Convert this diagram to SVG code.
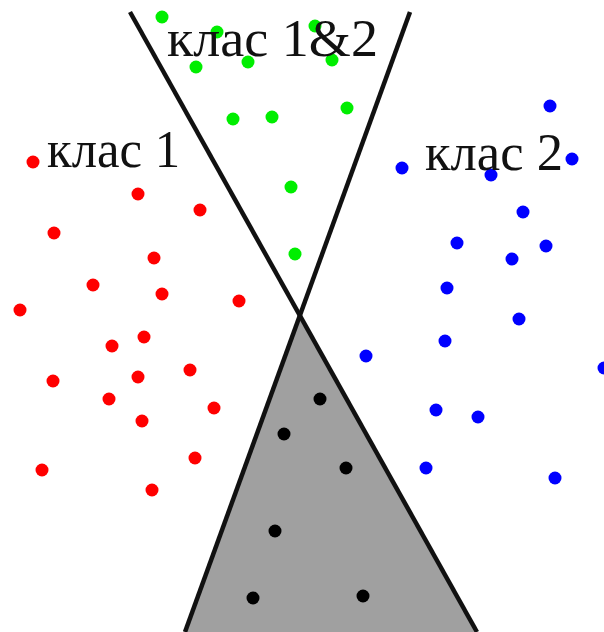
<svg xmlns="http://www.w3.org/2000/svg" width="604" height="632" viewBox="0 0 604 632">
<style>
.lbl{font-family:"Liberation Serif","Times New Roman",serif;font-size:52px;fill:#111}
.ln{stroke:#111;stroke-width:4.5;fill:none}
.g{fill:#00ee00}
.r{fill:#ff0000}
.b{fill:#0000ff}
.k{fill:#000}
</style>
<rect width="604" height="632" fill="#fff"/>
<g id="region">
<polygon points="299,316 185,632 477,632" fill="#a0a0a0"/>
</g>
<g id="connectors">
<line class="ln" x1="130" y1="12" x2="477" y2="632"/>
<line class="ln" x1="410" y1="12" x2="185" y2="632"/>
</g>
<g id="green">
<circle class="g" cx="162" cy="17" r="6.5"/><circle class="g" cx="217" cy="32" r="6.5"/>
<circle class="g" cx="196" cy="67" r="6.5"/><circle class="g" cx="248" cy="62" r="6.5"/>
<circle class="g" cx="315" cy="26" r="6.5"/><circle class="g" cx="332" cy="60" r="6.5"/>
<circle class="g" cx="233" cy="119" r="6.5"/><circle class="g" cx="272" cy="117" r="6.5"/>
<circle class="g" cx="347" cy="108" r="6.5"/><circle class="g" cx="291" cy="187" r="6.5"/>
<circle class="g" cx="295" cy="254" r="6.5"/>
</g>
<g id="red">
<circle class="r" cx="33" cy="162" r="6.5"/><circle class="r" cx="138" cy="194" r="6.5"/>
<circle class="r" cx="200" cy="210" r="6.5"/><circle class="r" cx="54" cy="233" r="6.5"/>
<circle class="r" cx="154" cy="258" r="6.5"/><circle class="r" cx="93" cy="285" r="6.5"/>
<circle class="r" cx="162" cy="294" r="6.5"/><circle class="r" cx="20" cy="310" r="6.5"/>
<circle class="r" cx="239" cy="301" r="6.5"/><circle class="r" cx="112" cy="346" r="6.5"/>
<circle class="r" cx="144" cy="337" r="6.5"/><circle class="r" cx="53" cy="381" r="6.5"/>
<circle class="r" cx="138" cy="377" r="6.5"/><circle class="r" cx="190" cy="370" r="6.5"/>
<circle class="r" cx="109" cy="399" r="6.5"/><circle class="r" cx="214" cy="408" r="6.5"/>
<circle class="r" cx="142" cy="421" r="6.5"/><circle class="r" cx="42" cy="470" r="6.5"/>
<circle class="r" cx="195" cy="458" r="6.5"/><circle class="r" cx="152" cy="490" r="6.5"/>
</g>
<g id="blue">
<circle class="b" cx="550" cy="106" r="6.5"/><circle class="b" cx="402" cy="168" r="6.5"/>
<circle class="b" cx="491" cy="175" r="6.5"/><circle class="b" cx="572" cy="159" r="6.5"/>
<circle class="b" cx="523" cy="212" r="6.5"/><circle class="b" cx="457" cy="243" r="6.5"/>
<circle class="b" cx="512" cy="259" r="6.5"/><circle class="b" cx="546" cy="246" r="6.5"/>
<circle class="b" cx="447" cy="288" r="6.5"/><circle class="b" cx="519" cy="319" r="6.5"/>
<circle class="b" cx="445" cy="341" r="6.5"/><circle class="b" cx="366" cy="356" r="6.5"/>
<circle class="b" cx="604" cy="368" r="6.5"/><circle class="b" cx="436" cy="410" r="6.5"/>
<circle class="b" cx="478" cy="417" r="6.5"/><circle class="b" cx="426" cy="468" r="6.5"/>
<circle class="b" cx="555" cy="478" r="6.5"/>
</g>
<g id="black">
<circle class="k" cx="320" cy="399" r="6.5"/><circle class="k" cx="284" cy="434" r="6.5"/>
<circle class="k" cx="346" cy="468" r="6.5"/><circle class="k" cx="275" cy="531" r="6.5"/>
<circle class="k" cx="253" cy="598" r="6.5"/><circle class="k" cx="363" cy="596" r="6.5"/>
</g>
<g id="labels">
<text class="lbl" x="167" y="56" textLength="211" lengthAdjust="spacingAndGlyphs">клас 1&amp;2</text>
<text class="lbl" x="47" y="167" textLength="133" lengthAdjust="spacingAndGlyphs">клас 1</text>
<text class="lbl" x="425" y="170" textLength="138" lengthAdjust="spacingAndGlyphs">клас 2</text>
</g>
</svg>
